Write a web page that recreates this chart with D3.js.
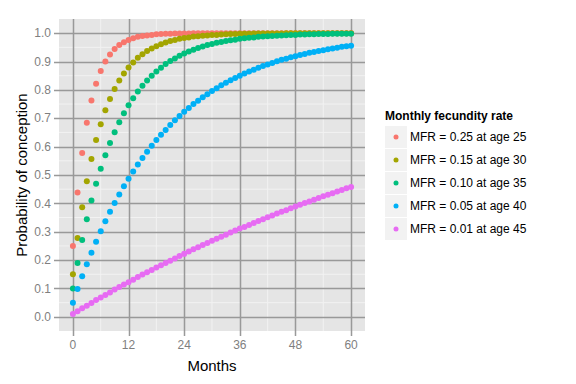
<!DOCTYPE html>
<html>
<head>
<meta charset="utf-8">
<script src="https://cdn.jsdelivr.net/npm/d3@7"></script>
<style>
  body { margin: 0; background: #fff; }
  svg { font-family: "Liberation Sans", Arial, sans-serif; }
</style>
</head>
<body>
<svg id="chart" width="576" height="384"></svg>
<script>
// months 0..60
const months = d3.range(0, 61);

const seriesNames = [
    "MFR = 0.25 at age 25",
    "MFR = 0.15 at age 30",
    "MFR = 0.10 at age 35",
    "MFR = 0.05 at age 40",
    "MFR = 0.01 at age 45"
];

const seriesColors = ["#F8766D", "#A3A500", "#00BF7D", "#00B0F6", "#E76BF3"];

// probability of conception, read per month
const mfr25 = [0.250, 0.438, 0.578, 0.684, 0.763, 0.822, 0.867, 0.900, 0.925, 0.944,
    0.958, 0.968, 0.976, 0.982, 0.987, 0.990, 0.992, 0.994, 0.996, 0.997,
    0.998, 0.998, 0.999, 0.999, 0.999, 0.999, 1.000, 1.000, 1.000, 1.000,
    1.000, 1.000, 1.000, 1.000, 1.000, 1.000, 1.000, 1.000, 1.000, 1.000,
    1.000, 1.000, 1.000, 1.000, 1.000, 1.000, 1.000, 1.000, 1.000, 1.000,
    1.000, 1.000, 1.000, 1.000, 1.000, 1.000, 1.000, 1.000, 1.000, 1.000, 1.000];

const mfr15 = [0.150, 0.278, 0.386, 0.478, 0.556, 0.623, 0.679, 0.728, 0.768, 0.803,
    0.833, 0.858, 0.879, 0.897, 0.913, 0.926, 0.937, 0.946, 0.954, 0.961,
    0.967, 0.972, 0.976, 0.980, 0.983, 0.985, 0.988, 0.989, 0.991, 0.992,
    0.994, 0.994, 0.995, 0.996, 0.997, 0.997, 0.998, 0.998, 0.998, 0.999,
    0.999, 0.999, 0.999, 0.999, 0.999, 0.999, 1.000, 1.000, 1.000, 1.000,
    1.000, 1.000, 1.000, 1.000, 1.000, 1.000, 1.000, 1.000, 1.000, 1.000, 1.000];

const mfr10 = [0.100, 0.190, 0.271, 0.344, 0.410, 0.469, 0.522, 0.570, 0.613, 0.651,
    0.686, 0.718, 0.746, 0.771, 0.794, 0.815, 0.833, 0.850, 0.865, 0.878,
    0.891, 0.902, 0.911, 0.920, 0.928, 0.935, 0.942, 0.948, 0.953, 0.958,
    0.962, 0.966, 0.969, 0.972, 0.975, 0.977, 0.980, 0.982, 0.984, 0.985,
    0.987, 0.988, 0.989, 0.990, 0.991, 0.992, 0.993, 0.994, 0.994, 0.995,
    0.995, 0.996, 0.996, 0.997, 0.997, 0.997, 0.998, 0.998, 0.998, 0.998, 0.998];

const mfr05 = [0.050, 0.098, 0.143, 0.185, 0.226, 0.265, 0.302, 0.337, 0.370, 0.401,
    0.431, 0.460, 0.487, 0.512, 0.537, 0.560, 0.582, 0.603, 0.623, 0.642,
    0.659, 0.676, 0.693, 0.708, 0.723, 0.736, 0.750, 0.762, 0.774, 0.785,
    0.796, 0.806, 0.816, 0.825, 0.834, 0.842, 0.850, 0.858, 0.865, 0.871,
    0.878, 0.884, 0.890, 0.895, 0.901, 0.906, 0.910, 0.915, 0.919, 0.923,
    0.927, 0.931, 0.934, 0.937, 0.940, 0.943, 0.946, 0.949, 0.952, 0.954, 0.956];

const mfr01 = [0.010, 0.020, 0.030, 0.039, 0.049, 0.059, 0.068, 0.077, 0.086, 0.096,
    0.105, 0.114, 0.122, 0.131, 0.140, 0.149, 0.157, 0.165, 0.174, 0.182,
    0.190, 0.198, 0.206, 0.214, 0.222, 0.230, 0.238, 0.245, 0.253, 0.260,
    0.268, 0.275, 0.282, 0.289, 0.297, 0.304, 0.311, 0.317, 0.324, 0.331,
    0.338, 0.344, 0.351, 0.357, 0.364, 0.370, 0.376, 0.383, 0.389, 0.395,
    0.401, 0.407, 0.413, 0.419, 0.425, 0.430, 0.436, 0.442, 0.447, 0.453, 0.458];

const allSeries = [mfr25, mfr15, mfr10, mfr05, mfr01];

const xTicks = [0, 12, 24, 36, 48, 60];
const yTicks = [0, 0.1, 0.2, 0.3, 0.4, 0.5, 0.6, 0.7, 0.8, 0.9, 1.0];

const svg = d3.select("#chart");

const panel = {left: 59, right: 365, top: 19, bottom: 331};

const x = d3.scaleLinear().domain([-3, 63]).range([panel.left, panel.right]);
const y = d3.scaleLinear().domain([-0.05, 1.05]).range([panel.bottom, panel.top]);

// panel background
svg.append("rect")
    .attr("x", panel.left)
    .attr("y", panel.top)
    .attr("width", panel.right - panel.left)
    .attr("height", panel.bottom - panel.top)
    .attr("fill", "#e5e5e5");

// minor grid (white)
const xMinor = xTicks.slice(0, -1).map(d => d + 6);
const yMinor = yTicks.slice(0, -1).map(d => d + 0.05);

svg.append("g").selectAll("line")
    .data(xMinor)
    .join("line")
    .attr("x1", d => x(d)).attr("x2", d => x(d))
    .attr("y1", panel.top).attr("y2", panel.bottom)
    .attr("stroke", "#f2f2f2")
    .attr("stroke-width", 1);

svg.append("g").selectAll("line")
    .data(yMinor)
    .join("line")
    .attr("y1", d => y(d)).attr("y2", d => y(d))
    .attr("x1", panel.left).attr("x2", panel.right)
    .attr("stroke", "#f2f2f2")
    .attr("stroke-width", 1);

// major grid (grey)
svg.append("g").selectAll("line")
    .data(xTicks)
    .join("line")
    .attr("x1", d => Math.round(x(d)) + 0.5).attr("x2", d => Math.round(x(d)) + 0.5)
    .attr("y1", panel.top).attr("y2", panel.bottom + 5)
    .attr("stroke", "#999999")
    .attr("stroke-width", 1.5);

svg.append("g").selectAll("line")
    .data(yTicks)
    .join("line")
    .attr("y1", d => Math.round(y(d)) + 0.5).attr("y2", d => Math.round(y(d)) + 0.5)
    .attr("x1", panel.left - 5).attr("x2", panel.right)
    .attr("stroke", "#999999")
    .attr("stroke-width", 1.5);

// tick labels
svg.append("g").selectAll("text")
    .data(xTicks)
    .join("text")
    .attr("x", d => x(d))
    .attr("y", panel.bottom + 18)
    .attr("text-anchor", "middle")
    .attr("font-size", 12)
    .attr("fill", "#7f7f7f")
    .text(d => d);

svg.append("g").selectAll("text")
    .data(yTicks)
    .join("text")
    .attr("x", panel.left - 8)
    .attr("y", d => y(d))
    .attr("dy", "0.35em")
    .attr("text-anchor", "end")
    .attr("font-size", 12)
    .attr("fill", "#7f7f7f")
    .text(d => d3.format(".1f")(d));

// axis titles
svg.append("text")
    .attr("x", (panel.left + panel.right) / 2)
    .attr("y", 371)
    .attr("text-anchor", "middle")
    .attr("font-size", 15)
    .attr("fill", "#000")
    .text("Months");

svg.append("text")
    .attr("transform", `translate(27, ${(panel.top + panel.bottom) / 2}) rotate(-90)`)
    .attr("text-anchor", "middle")
    .attr("font-size", 15)
    .attr("fill", "#000")
    .text("Probability of conception");

// points
allSeries.forEach((values, i) => {
    svg.append("g")
        .selectAll("circle")
        .data(values)
        .join("circle")
        .attr("cx", (d, j) => x(months[j]))
        .attr("cy", d => y(d))
        .attr("r", 3)
        .attr("fill", seriesColors[i]);
});

// legend
const legend = svg.append("g").attr("transform", "translate(385, 0)");

legend.append("text")
    .attr("x", 0)
    .attr("y", 120)
    .attr("font-size", 12)
    .attr("font-weight", "bold")
    .attr("fill", "#000")
    .text("Monthly fecundity rate");

const keys = legend.selectAll("g.key")
    .data(seriesNames)
    .join("g")
    .attr("class", "key")
    .attr("transform", (d, i) => `translate(0, ${126 + i * 23})`);

keys.append("rect")
    .attr("width", 22)
    .attr("height", 22)
    .attr("fill", "#f2f2f2");

keys.append("circle")
    .attr("cx", 11)
    .attr("cy", 11)
    .attr("r", 2.5)
    .attr("fill", (d, i) => seriesColors[i]);

keys.append("text")
    .attr("x", 25)
    .attr("y", 11)
    .attr("dy", "0.35em")
    .attr("font-size", 12)
    .attr("fill", "#000")
    .text(d => d);
</script>
</body>
</html>
